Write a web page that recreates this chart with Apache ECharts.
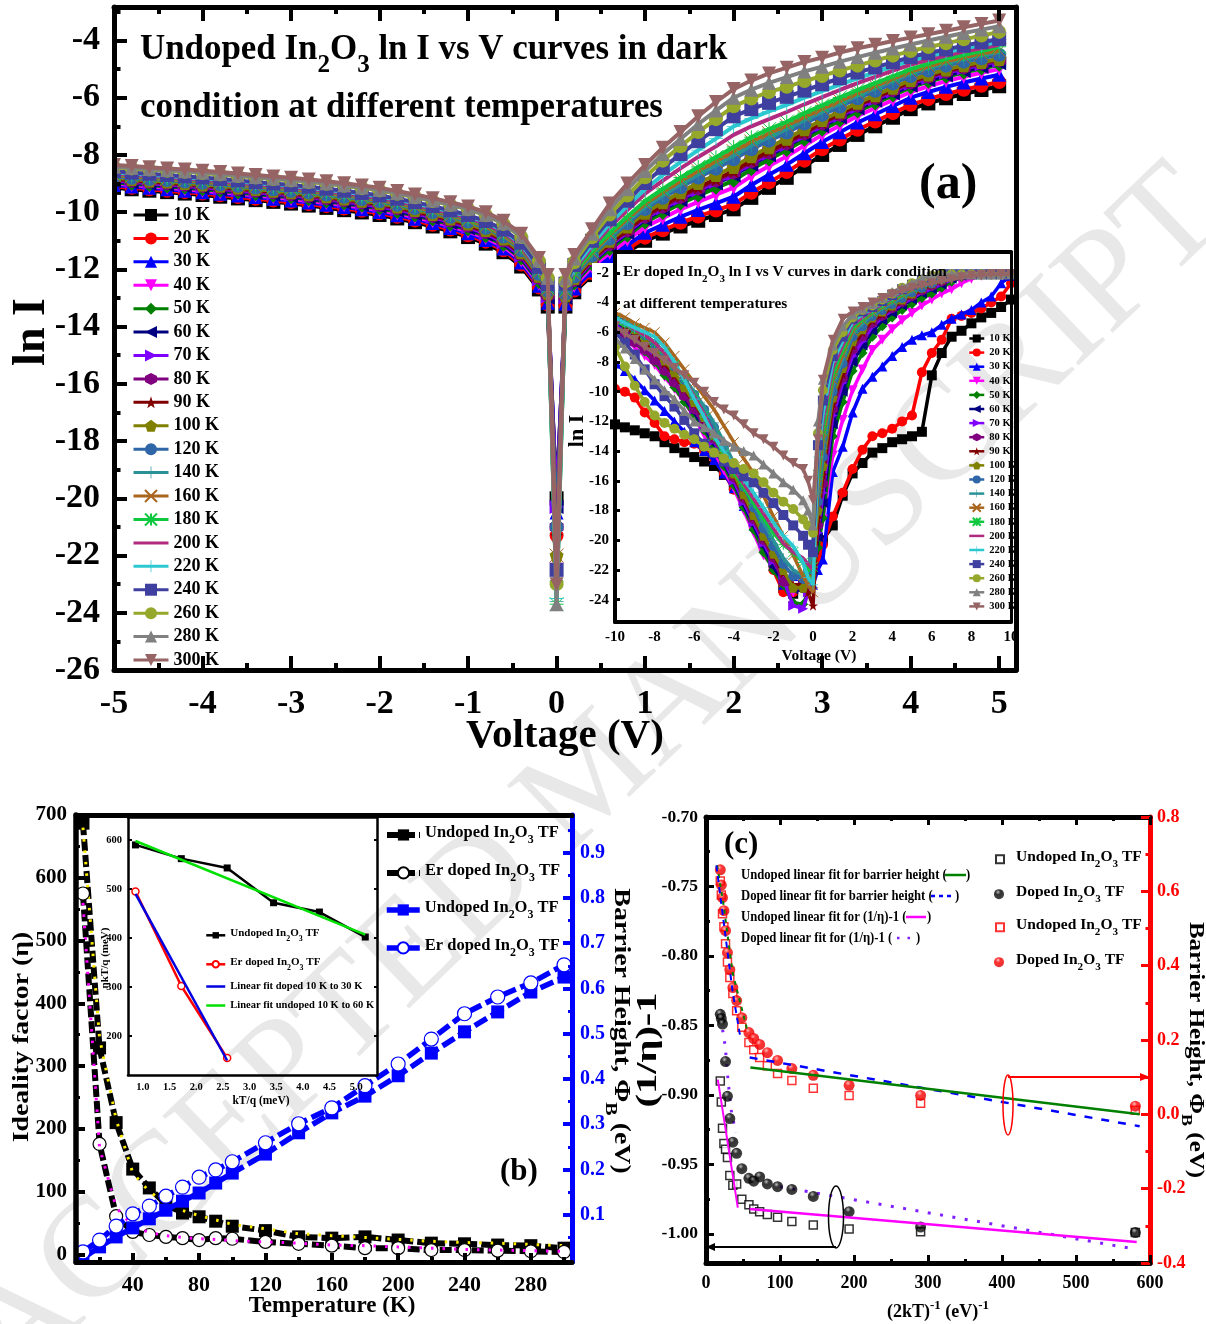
<!DOCTYPE html>
<html><head><meta charset="utf-8">
<script src="https://cdn.jsdelivr.net/npm/echarts@6/dist/echarts.min.js"></script>
<style>html,body{margin:0;padding:0;background:#fff}#c{width:1206px;height:1324px}</style></head>
<body><div id="c"></div><script>
const F='"Liberation Serif","Times New Roman",serif';
const NONE='path://M0 0h.01v.01h-.01ZM10 10h.01v.01h-.01Z';
const tempNames=['10 K','20 K','30 K','40 K','50 K','60 K','70 K','80 K','90 K','100 K','120 K','140 K','160 K','180 K','200 K','220 K','240 K','260 K','280 K','300 K'];
const tempColors=['#000000','#ff0000','#0000ff','#ff00ff','#008000','#000080','#8000ff','#800080','#800000','#808000','#2f66a8','#2a9296','#a8661f','#10c840','#b02a80','#2cc8d0','#3f3f9f','#96a82c','#808080','#966464'];
const tempSymbols=['rect','circle','triangle','path://M0 0H10L5 10Z','diamond','path://M10 0V10L0 5Z','path://M0 0V10L10 5Z','path://M5 0L10 2.5V7.5L5 10L0 7.5V2.5Z','path://M5 0L6.2 3.6H10L7 5.9L8.1 9.5L5 7.3L1.9 9.5L3 5.9L0 3.6H3.8Z','path://M5 0L10 3.8L8.1 10H1.9L0 3.8Z','circle','path://M4.7 0H5.3V4.7H10V5.3H5.3V10H4.7V5.3H0V4.7H4.7Z','path://M0 0L10 10M10 0L0 10','path://M0 0L10 10M10 0L0 10M5 0V10M0 5H10',NONE,'path://M4.7 0H5.3V4.7H10V5.3H5.3V10H4.7V5.3H0V4.7H4.7Z','rect','circle','triangle','path://M0 0H10L5 10Z'];
const voltsA=[-5,-4.8,-4.6,-4.4,-4.2,-4,-3.8,-3.6,-3.4,-3.2,-3,-2.8,-2.6,-2.4,-2.2,-2,-1.8,-1.6,-1.4,-1.2,-1,-0.8,-0.6,-0.4,-0.2,-0.1,0,0.1,0.2,0.4,0.6,0.8,1,1.2,1.4,1.6,1.8,2,2.2,2.4,2.6,2.8,3,3.2,3.4,3.6,3.8,4,4.2,4.4,4.6,4.8,5];
const a10=[-9.15,-9.20,-9.25,-9.30,-9.35,-9.40,-9.46,-9.52,-9.58,-9.64,-9.70,-9.77,-9.85,-9.93,-10.01,-10.10,-10.22,-10.35,-10.50,-10.67,-10.87,-11.10,-11.40,-11.90,-12.70,-13.30,-20,-13.3,-12.8,-12.2,-11.8,-11.4,-11.0,-10.75,-10.5,-10.3,-10.1,-9.9,-9.5,-9.15,-8.8,-8.4,-8.0,-7.65,-7.3,-7.0,-6.7,-6.4,-6.2,-6.02,-5.87,-5.73,-5.6];
const a20=[-9.10,-9.15,-9.20,-9.25,-9.30,-9.35,-9.41,-9.47,-9.53,-9.59,-9.65,-9.72,-9.79,-9.87,-9.95,-10.04,-10.16,-10.29,-10.44,-10.61,-10.81,-11.03,-11.33,-11.83,-12.63,-13.23,-21.3,-13.25,-12.74,-12.13,-11.71,-11.3,-10.89,-10.63,-10.37,-10.15,-9.94,-9.73,-9.32,-8.96,-8.6,-8.2,-7.8,-7.46,-7.12,-6.83,-6.54,-6.25,-6.05,-5.87,-5.72,-5.58,-5.45];
const a30=[-9.05,-9.10,-9.15,-9.20,-9.25,-9.30,-9.36,-9.42,-9.47,-9.53,-9.59,-9.66,-9.74,-9.82,-9.90,-9.99,-10.11,-10.23,-10.38,-10.55,-10.74,-10.97,-11.27,-11.76,-12.57,-13.17,-20.5,-13.2,-12.67,-12.04,-11.59,-11.15,-10.72,-10.44,-10.16,-9.92,-9.69,-9.46,-9.05,-8.69,-8.34,-7.94,-7.55,-7.21,-6.87,-6.58,-6.29,-6.0,-5.8,-5.62,-5.47,-5.33,-5.2];
const a40=[-9.00,-9.05,-9.10,-9.15,-9.20,-9.25,-9.30,-9.36,-9.42,-9.48,-9.54,-9.61,-9.68,-9.76,-9.84,-9.93,-10.05,-10.18,-10.32,-10.49,-10.68,-10.90,-11.20,-11.69,-12.50,-13.10,-22.5,-13.1,-12.57,-11.91,-11.42,-10.97,-10.52,-10.21,-9.9,-9.64,-9.39,-9.14,-8.74,-8.39,-8.05,-7.67,-7.3,-6.97,-6.64,-6.36,-6.08,-5.8,-5.6,-5.42,-5.27,-5.13,-5.0];
const a50=[-8.96,-9.01,-9.05,-9.10,-9.15,-9.20,-9.25,-9.31,-9.37,-9.43,-9.48,-9.55,-9.63,-9.70,-9.78,-9.87,-9.99,-10.12,-10.26,-10.43,-10.61,-10.84,-11.14,-11.62,-12.44,-13.04,-22.9,-13.04,-12.49,-11.82,-11.3,-10.82,-10.36,-10.03,-9.7,-9.42,-9.15,-8.9,-8.5,-8.16,-7.83,-7.47,-7.12,-6.8,-6.48,-6.2,-5.92,-5.64,-5.44,-5.27,-5.12,-4.98,-4.85];
const a60=[-8.93,-8.97,-9.02,-9.07,-9.11,-9.16,-9.22,-9.28,-9.33,-9.39,-9.45,-9.52,-9.59,-9.67,-9.75,-9.83,-9.95,-10.08,-10.22,-10.38,-10.57,-10.79,-11.09,-11.58,-12.39,-12.99,-20.3,-13.0,-12.44,-11.75,-11.21,-10.73,-10.26,-9.91,-9.58,-9.28,-9.0,-8.72,-8.34,-8.01,-7.7,-7.35,-7.0,-6.69,-6.38,-6.11,-5.85,-5.58,-5.39,-5.22,-5.07,-4.93,-4.8];
const a70=[-8.89,-8.94,-8.99,-9.03,-9.08,-9.13,-9.18,-9.24,-9.30,-9.36,-9.41,-9.48,-9.55,-9.63,-9.71,-9.80,-9.91,-10.04,-10.18,-10.34,-10.53,-10.75,-11.05,-11.53,-12.35,-12.95,-20.3,-12.97,-12.41,-11.72,-11.17,-10.69,-10.21,-9.86,-9.53,-9.23,-8.95,-8.67,-8.29,-7.96,-7.65,-7.3,-6.95,-6.64,-6.33,-6.05,-5.78,-5.51,-5.31,-5.13,-4.98,-4.84,-4.72];
const a80=[-8.86,-8.91,-8.95,-9.0,-9.05,-9.09,-9.15,-9.21,-9.26,-9.32,-9.38,-9.44,-9.52,-9.59,-9.67,-9.76,-9.87,-10.0,-10.14,-10.3,-10.48,-10.7,-11.0,-11.49,-12.3,-12.9,-21,-12.95,-12.38,-11.69,-11.13,-10.65,-10.17,-9.82,-9.48,-9.18,-8.9,-8.62,-8.24,-7.92,-7.61,-7.26,-6.91,-6.6,-6.29,-6.02,-5.75,-5.48,-5.28,-5.1,-4.95,-4.81,-4.7];
const a90=[-8.83,-8.88,-8.92,-8.97,-9.01,-9.06,-9.12,-9.17,-9.23,-9.28,-9.34,-9.41,-9.48,-9.55,-9.63,-9.72,-9.83,-9.96,-10.1,-10.26,-10.44,-10.66,-10.96,-11.44,-12.26,-12.86,-21.3,-12.93,-12.35,-11.65,-11.09,-10.6,-10.12,-9.77,-9.43,-9.13,-8.85,-8.57,-8.19,-7.87,-7.56,-7.21,-6.87,-6.56,-6.25,-5.98,-5.71,-5.44,-5.24,-5.06,-4.91,-4.77,-4.66];
const a100=[-8.8,-8.84,-8.89,-8.93,-8.98,-9.03,-9.08,-9.14,-9.19,-9.25,-9.3,-9.37,-9.44,-9.52,-9.6,-9.68,-9.8,-9.92,-10.06,-10.22,-10.4,-10.62,-10.92,-11.4,-12.22,-12.82,-22,-12.9,-12.3,-11.6,-11.0,-10.5,-10.02,-9.65,-9.3,-8.98,-8.7,-8.42,-8.05,-7.73,-7.43,-7.1,-6.78,-6.48,-6.18,-5.91,-5.65,-5.38,-5.19,-5.01,-4.87,-4.75,-4.65];
const a120=[-8.75,-8.8,-8.84,-8.88,-8.93,-8.97,-9.03,-9.08,-9.14,-9.2,-9.25,-9.31,-9.38,-9.46,-9.54,-9.62,-9.74,-9.86,-10.0,-10.16,-10.33,-10.55,-10.85,-11.33,-12.15,-12.75,-21,-12.84,-12.25,-11.52,-10.92,-10.39,-9.89,-9.5,-9.13,-8.79,-8.48,-8.15,-7.8,-7.5,-7.22,-6.9,-6.6,-6.31,-6.02,-5.76,-5.5,-5.24,-5.05,-4.88,-4.74,-4.62,-4.5];
const a140=[-8.73,-8.78,-8.82,-8.87,-8.91,-8.96,-9.01,-9.07,-9.12,-9.18,-9.23,-9.3,-9.37,-9.44,-9.52,-9.6,-9.72,-9.85,-9.99,-10.14,-10.31,-10.53,-10.83,-11.3,-12.13,-12.73,-23.6,-12.8,-12.2,-11.47,-10.86,-10.32,-9.81,-9.41,-9.03,-8.68,-8.36,-8.02,-7.67,-7.38,-7.1,-6.79,-6.5,-6.21,-5.93,-5.67,-5.41,-5.15,-4.96,-4.79,-4.65,-4.52,-4.4];
const a160=[-8.71,-8.75,-8.8,-8.84,-8.89,-8.93,-8.99,-9.04,-9.1,-9.15,-9.2,-9.27,-9.34,-9.41,-9.49,-9.58,-9.69,-9.82,-9.96,-10.11,-10.28,-10.5,-10.8,-11.27,-12.1,-12.7,-22,-12.77,-12.16,-11.42,-10.79,-10.23,-9.71,-9.3,-8.91,-8.55,-8.22,-7.87,-7.53,-7.24,-6.97,-6.67,-6.39,-6.11,-5.84,-5.59,-5.34,-5.09,-4.9,-4.73,-4.59,-4.46,-4.35];
const a180=[-8.67,-8.71,-8.76,-8.8,-8.85,-8.89,-8.94,-9.0,-9.05,-9.11,-9.16,-9.22,-9.29,-9.37,-9.45,-9.53,-9.64,-9.77,-9.91,-10.06,-10.23,-10.44,-10.74,-11.21,-12.04,-12.64,-23.7,-12.73,-12.12,-11.36,-10.72,-10.15,-9.61,-9.19,-8.79,-8.42,-8.08,-7.72,-7.38,-7.1,-6.84,-6.54,-6.27,-5.99,-5.73,-5.49,-5.25,-5.0,-4.81,-4.64,-4.5,-4.37,-4.22];
const a200=[-8.65,-8.7,-8.74,-8.78,-8.83,-8.87,-8.93,-8.98,-9.03,-9.09,-9.14,-9.2,-9.27,-9.35,-9.43,-9.51,-9.62,-9.75,-9.89,-10.04,-10.2,-10.42,-10.72,-11.19,-12.02,-12.62,-22,-12.65,-12.02,-11.22,-10.52,-9.93,-9.35,-8.9,-8.47,-8.07,-7.7,-7.3,-7.0,-6.75,-6.5,-6.23,-5.98,-5.73,-5.49,-5.27,-5.05,-4.84,-4.68,-4.53,-4.39,-4.27,-4.15];
const a220=[-8.61,-8.65,-8.69,-8.74,-8.78,-8.82,-8.87,-8.93,-8.98,-9.03,-9.08,-9.15,-9.22,-9.29,-9.37,-9.45,-9.56,-9.69,-9.83,-9.98,-10.14,-10.35,-10.65,-11.12,-11.95,-12.55,-23.5,-12.58,-11.95,-11.13,-10.4,-9.78,-9.2,-8.7,-8.25,-7.83,-7.43,-7.0,-6.72,-6.48,-6.25,-6.0,-5.77,-5.54,-5.32,-5.11,-4.9,-4.7,-4.55,-4.41,-4.28,-4.16,-4.05];
const a240=[-8.57,-8.62,-8.66,-8.7,-8.75,-8.79,-8.84,-8.89,-8.95,-9.0,-9.05,-9.11,-9.18,-9.25,-9.33,-9.42,-9.53,-9.65,-9.79,-9.94,-10.1,-10.31,-10.61,-11.07,-11.91,-12.51,-22.5,-12.5,-11.85,-11.0,-10.25,-9.6,-8.98,-8.45,-7.97,-7.52,-7.1,-6.65,-6.4,-6.18,-5.97,-5.75,-5.53,-5.32,-5.12,-4.94,-4.76,-4.58,-4.44,-4.31,-4.18,-4.06,-3.95];
const a260=[-8.43,-8.47,-8.51,-8.55,-8.59,-8.63,-8.68,-8.74,-8.79,-8.84,-8.89,-8.95,-9.01,-9.08,-9.16,-9.24,-9.36,-9.48,-9.61,-9.75,-9.9,-10.11,-10.41,-10.87,-11.71,-12.31,-23,-12.42,-11.75,-10.88,-10.08,-9.42,-8.78,-8.2,-7.7,-7.2,-6.75,-6.3,-6.03,-5.8,-5.62,-5.42,-5.24,-5.05,-4.88,-4.7,-4.53,-4.37,-4.23,-4.1,-3.96,-3.83,-3.7];
const a280=[-8.41,-8.45,-8.49,-8.53,-8.57,-8.61,-8.66,-8.72,-8.77,-8.82,-8.87,-8.93,-8.99,-9.06,-9.14,-9.22,-9.33,-9.46,-9.59,-9.73,-9.88,-10.09,-10.39,-10.85,-11.69,-12.29,-23.7,-12.32,-11.62,-10.75,-9.9,-9.2,-8.56,-7.97,-7.44,-6.92,-6.45,-6.0,-5.72,-5.48,-5.28,-5.08,-4.92,-4.74,-4.58,-4.43,-4.28,-4.14,-4.0,-3.87,-3.74,-3.62,-3.5];
const a300=[-8.35,-8.39,-8.43,-8.47,-8.51,-8.55,-8.6,-8.65,-8.7,-8.75,-8.8,-8.86,-8.92,-8.99,-9.07,-9.15,-9.26,-9.38,-9.51,-9.65,-9.8,-10.0,-10.3,-10.75,-11.6,-12.2,-23,-12.2,-11.5,-10.6,-9.7,-9.0,-8.35,-7.75,-7.2,-6.65,-6.15,-5.7,-5.4,-5.15,-4.95,-4.75,-4.6,-4.42,-4.27,-4.15,-4.02,-3.9,-3.78,-3.66,-3.54,-3.42,-3.3];
const voltsB=[-10,-9.5,-9,-8.5,-8,-7.5,-7,-6.5,-6,-5.5,-5,-4.5,-4,-3.5,-3,-2.5,-2,-1.5,-1,-0.5,-0.25,0,0.25,0.5,1,1.5,2,2.5,3,3.5,4,4.5,5,5.5,6,6.5,7,7.5,8,8.5,9,9.5,10];
const b10=[-12.2,-12.4,-12.6,-12.8,-13,-13.4,-13.8,-14.1,-14.4,-14.7,-15,-15.6,-16.3,-17.3,-18.5,-20,-21.5,-23.2,-23.6,-23,-22.5,-21.5,-21,-20,-19,-17,-15.5,-14.8,-14.1,-13.8,-13.4,-13.2,-13,-12.7,-8.9,-7.4,-6.3,-5.9,-5.4,-5,-4.7,-4.3,-3.8];
const b20=[-9.8,-10,-10.4,-11.4,-12.1,-13,-13.2,-13.4,-13.5,-14,-14.5,-15.5,-16.6,-17.6,-19,-20.5,-22,-23.5,-23.5,-23,-22.5,-22,-21.5,-20.3,-18.4,-16.8,-15.2,-13.9,-13,-12.8,-12.5,-12,-11.6,-8.7,-7.4,-6.5,-5.1,-4.9,-4.7,-4.4,-4,-3.6,-2.7];
const b30=[-8.1,-8.6,-9.2,-9.9,-10.6,-11.3,-12,-12.7,-13.4,-14,-14.6,-15.5,-16.5,-17.7,-19,-20,-21.7,-23,-22.4,-22.5,-22.8,-23,-22,-21.3,-15.4,-13.7,-11.4,-9.8,-9,-8.3,-7.6,-7,-6.5,-6.2,-6,-5.5,-5.1,-4.8,-4.5,-4,-3.6,-2.7,-2.2];
const b40=[-6,-6.5,-7,-7.6,-8.2,-9,-9.8,-10.7,-11.7,-12.9,-14,-15.3,-16.5,-18,-19.5,-21,-21.8,-23,-23.5,-23,-22.5,-21,-20,-18.6,-14.3,-11.9,-9.9,-8.5,-7.2,-6.5,-5.8,-5.2,-4.7,-4.2,-3.8,-3.4,-3.1,-2.7,-2.4,-2.2,-2.1,-2.1,-2.1];
const b50=[-5.6,-6.1,-6.7,-7.3,-8,-8.9,-9.7,-10.7,-11.6,-12.6,-13.7,-15,-16.3,-17.8,-19.3,-20.8,-22,-23,-24.2,-24.3,-23.5,-22,-20.5,-18.5,-13,-10.7,-8.6,-7.4,-6.3,-5.6,-5,-4.5,-4.1,-3.7,-3.4,-3,-2.6,-2.3,-2.1,-2.1,-2.1,-2.1,-2.1];
const b60=[-5.4,-5.9,-6.4,-7,-7.7,-8.5,-9.4,-10.4,-11.4,-12.4,-13.5,-14.8,-16.1,-17.6,-19,-20.4,-21.8,-22.8,-23.3,-23.4,-23,-22,-19.8,-17.5,-12.2,-10,-8,-6.9,-5.9,-5.2,-4.7,-4.2,-3.8,-3.4,-3.1,-2.8,-2.4,-2.2,-2.1,-2.1,-2.1,-2.1,-2.1];
const b70=[-5.5,-6,-6.5,-7.1,-7.7,-8.4,-9.2,-10.2,-11.2,-12.2,-13.3,-14.6,-16,-17.4,-18.8,-20.2,-21.4,-22.6,-24.4,-24.6,-23.5,-21.5,-19.5,-16.8,-11.6,-9.4,-7.6,-6.6,-5.6,-5,-4.5,-4.1,-3.7,-3.3,-3,-2.7,-2.4,-2.2,-2.1,-2.1,-2.1,-2.1,-2.1];
const b80=[-5.9,-6.2,-6.7,-7.2,-7.9,-8.6,-9.4,-10.3,-11.2,-12.2,-13.2,-14.4,-15.8,-17.2,-18.6,-20,-21.2,-22.8,-23.2,-23,-22.6,-21.8,-19,-16.2,-11.2,-9.1,-7.2,-6.3,-5.4,-4.9,-4.4,-4,-3.6,-3.2,-2.9,-2.6,-2.3,-2.2,-2.1,-2.1,-2.1,-2.1,-2.1];
const b90=[-5.1,-5.6,-6.1,-6.7,-7.3,-8.1,-8.9,-9.8,-10.8,-11.8,-13,-14.2,-15.6,-17,-18.4,-19.8,-21,-22.2,-23,-23,-23.5,-24.4,-18.5,-15.6,-10.8,-8.8,-6.9,-6,-5.2,-4.8,-4.3,-3.9,-3.5,-3.1,-2.8,-2.5,-2.2,-2.1,-2.1,-2.1,-2.1,-2.1,-2.1];
const b100=[-4.9,-5.3,-5.8,-6.4,-7.1,-7.9,-8.7,-9.7,-10.7,-11.7,-12.9,-14.1,-15.5,-16.9,-18.3,-19.7,-20.9,-22,-23.2,-23.2,-22.5,-21,-18,-15,-10.4,-8.4,-6.6,-5.8,-5,-4.6,-4.2,-3.8,-3.4,-3,-2.7,-2.4,-2.2,-2.1,-2.1,-2.1,-2.1,-2.1,-2.1];
const b120=[-5,-5.3,-5.7,-6.2,-6.8,-7.5,-8.3,-9.2,-10.2,-11.2,-12.4,-13.7,-15.1,-16.4,-17.8,-19.2,-20.4,-21.6,-22.4,-22.6,-22,-20.5,-17.4,-14.4,-10,-8.1,-6.3,-5.6,-4.9,-4.5,-4.1,-3.7,-3.3,-3,-2.7,-2.4,-2.2,-2.1,-2.1,-2.1,-2.1,-2.1,-2.1];
const b140=[-5.1,-5.3,-5.6,-6.1,-6.7,-7.4,-8.2,-9.1,-10,-11,-12.1,-13.4,-14.8,-16.1,-17.5,-18.8,-20,-21.2,-22,-22.4,-22,-20,-16.8,-13.8,-9.6,-7.8,-6.1,-5.4,-4.8,-4.4,-4,-3.6,-3.2,-2.9,-2.6,-2.3,-2.1,-2.1,-2.1,-2.1,-2.1,-2.1,-2.1];
const b160=[-4.7,-5,-5.4,-5.7,-6,-6.7,-7.6,-8.5,-9.4,-10.3,-11.2,-12.3,-13.4,-14.5,-15.5,-17,-18.4,-19.7,-21,-22.4,-23,-23.5,-16.2,-13.2,-9.2,-7.5,-5.9,-5.2,-4.7,-4.3,-3.9,-3.5,-3.1,-2.8,-2.5,-2.3,-2.1,-2.1,-2.1,-2.1,-2.1,-2.1,-2.1];
const b180=[-5.2,-5.5,-5.8,-6.2,-6.7,-7.4,-8.2,-9.2,-10.3,-11.6,-13,-14.2,-15.4,-16.4,-17.5,-18.5,-19.5,-20.3,-20.8,-21.5,-22,-21.8,-15.6,-12.6,-8.8,-7.2,-5.7,-5.1,-4.6,-4.2,-3.8,-3.4,-3,-2.7,-2.5,-2.2,-2.1,-2.1,-2.1,-2.1,-2.1,-2.1,-2.1];
const b200=[-5.1,-5.4,-5.8,-6.2,-6.7,-7.4,-8.2,-9.2,-10.3,-11.5,-12.9,-14,-15.2,-16.2,-17.2,-18.2,-19.2,-20.2,-20.8,-21.2,-21.6,-22,-15,-12,-8.4,-6.9,-5.5,-5,-4.5,-4.1,-3.7,-3.3,-3,-2.7,-2.4,-2.2,-2.1,-2.1,-2.1,-2.1,-2.1,-2.1,-2.1];
const b220=[-5,-5.4,-5.7,-6,-6.3,-7,-8,-9.2,-10.5,-11.7,-13,-14,-15,-15.9,-16.8,-17.8,-18.8,-19.7,-20.4,-21.5,-22.5,-23,-14.4,-11.5,-8,-6.6,-5.3,-4.8,-4.4,-4,-3.6,-3.2,-2.9,-2.6,-2.4,-2.2,-2.1,-2.1,-2.1,-2.1,-2.1,-2.1,-2.1];
const b240=[-6,-6.7,-7.5,-8.5,-9.5,-10.3,-11,-11.9,-12.8,-13.5,-14.1,-14.7,-15.2,-15.7,-16.1,-16.8,-17.5,-18.3,-19,-19.7,-20.3,-20.8,-13.6,-10.6,-7.6,-6.3,-5.1,-4.6,-4.3,-3.9,-3.5,-3.1,-2.8,-2.5,-2.3,-2.1,-2.1,-2.1,-2.1,-2.1,-2.1,-2.1,-2.1];
const b260=[-7,-8.3,-9.6,-10.7,-11.6,-12.1,-12.5,-12.9,-13.2,-13.7,-14.1,-14.5,-14.8,-15.2,-15.5,-16.1,-16.8,-17.4,-17.9,-18.6,-19,-19.5,-12.8,-9.9,-7.2,-6,-5,-4.5,-4.2,-3.8,-3.4,-3,-2.7,-2.5,-2.2,-2.1,-2.1,-2.1,-2.1,-2.1,-2.1,-2.1,-2.1];
const b280=[-6.4,-7.1,-7.8,-8.5,-9.2,-9.9,-10.5,-11.3,-12,-12.4,-12.8,-13.3,-13.7,-14,-14.3,-14.9,-15.5,-16.1,-16.6,-17.3,-18,-19,-12,-9.2,-6.9,-5.6,-4.8,-4.4,-4.1,-3.7,-3.3,-3,-2.7,-2.4,-2.2,-2.1,-2.1,-2.1,-2.1,-2.1,-2.1,-2.1,-2.1];
const b300=[-5.6,-6.1,-6.5,-7,-7.4,-7.9,-8.4,-8.9,-9.4,-10,-10.7,-11.2,-11.6,-12.2,-12.8,-13.2,-13.7,-14.3,-14.8,-15.2,-16,-17.3,-13.2,-9.2,-6.5,-5.1,-4.6,-4.3,-4,-3.7,-3.45,-3.2,-3,-2.85,-2.7,-2.55,-2.45,-2.3,-2.2,-2.15,-2.1,-2.1,-2.1];
const seriesA=[a10,a20,a30,a40,a50,a60,a70,a80,a90,a100,a120,a140,a160,a180,a200,a220,a240,a260,a280,a300];
const seriesB=[b10,b20,b30,b40,b50,b60,b70,b80,b90,b100,b120,b140,b160,b180,b200,b220,b240,b260,b280,b300];
// panel b
const tempsK=[10,20,30,40,50,60,70,80,90,100,120,140,160,180,200,220,240,260,280,300];
const etaUndoped=[687,329,210,136,106,80,66,60,53,45,38,28,26,28,23,18,17,15,14,10];
const etaDoped=[575,176,61,36,31,28,26,23,26,25,20,17,14,10,10,7,7,6,5,4];
const etaUndopedFit=[680,345,215,130,100,82,70,62,55,48,41,33,30,27,24,21,19,18,16,14];
const etaDopedFit=[560,170,75,45,35,30,27,25,24,22,20,18,15,14,12,10,8,7,6,5];
const phiUndoped=[.004,.029,.051,.071,.091,.110,.130,.148,.170,.192,.234,.281,.325,.362,.407,.457,.504,.548,.592,.625];
const phiDoped=[.018,.044,.075,.102,.119,.141,.161,.183,.199,.217,.259,.301,.336,.385,.433,.488,.544,.581,.612,.652];
const insetKT=[.86,1.72,2.58,3.45,4.31,5.17];
const insetUndoped=[590,562,543,472,453,402];
const insetDoped=[495,302,155];
const insetFitDoped=[[.86,490],[2.58,150]];
const insetFitUndoped=[[.86,598],[5.17,407]];
// panel c
const invKT=[19.3,20.7,22.3,24.2,26.4,29,32.2,36.3,41.4,48.4,58,64.5,72.5,82.9,96.7,116,145,193.4,290,580.2];
const cUndopedLeft=[-.890,-.905,-.924,-.935,-.939,-.945,-.958,-.965,-.964,-.975,-.979,-.982,-.984,-.986,-.988,-.991,-.9935,-.9965,-.9985,-.999];
const cDopedX=[19.3,20.7,22.3,26.4,29,32.2,36.3,41.4,48.4,58,64.5,72.5,82.9,96.7,116,145,193.4,290,580.2];
const cDopedLeft=[-.842,-.845,-.849,-.876,-.901,-.917,-.934,-.942,-.953,-.960,-.962,-.959,-.964,-.966,-.968,-.973,-.984,-.995,-.999];
const cUndopedRight=[.628,.59,.54,.505,.459,.41,.368,.325,.279,.234,.193,.174,.153,.131,.11,.091,.07,.051,.03,.011];
const cDopedRight=[.658,.617,.583,.548,.494,.435,.389,.341,.306,.26,.22,.204,.188,.166,.145,.123,.105,.078,.051,.022];
const fitBarrierUndopedSteep=[[15,.67],[24,.56],[36,.38],[56,.225]];
const fitBarrierDopedSteep=[[14,.67],[25,.5],[36,.33],[46,.212]];
const fitBarrierUndoped=[[60,.126],[586,0]];
const fitBarrierDoped=[[59,.153],[586,-.032]];
const fitEtaUndopedSteep=[[16,-.889],[43,-.981]];
const fitEtaUndoped=[[59,-.982],[582,-1.0058]];
const fitEtaDopedSteep=[[20,-.845],[26,-.865],[30,-.891],[35,-.915],[41,-.927]];
const fitEtaDoped=[[100,-.966],[570,-1.01]];
const xMajorB=[40,80,120,160,200,240,280], xMinorB=[20,60,100,140,180,220,260,300];
const yMajorB=[0,100,200,300,400,500,600,700], yMinorB=[50,150,250,350,450,550,650];
const rMajorB=[.1,.2,.3,.4,.5,.6,.7,.8,.9], rMinorB=[.05,.15,.25,.35,.45,.55,.65,.75,.85,.95];
const yMajorC=[-1,-.95,-.9,-.85,-.8,-.75,-.7], yMinorC=[-.975,-.925,-.875,-.825,-.775,-.725];
const yInsetA=[-24,-22,-20,-18,-16,-14,-12,-10,-8,-6,-4,-2];
const xInsetB=[1,1.5,2,2.5,3,3.5,4,4.5,5], yInsetB=[200,300,400,500,600];

const rich=(s,c)=>({t:{fontFamily:F,fontWeight:'bold',fontSize:s,color:c||'#000',lineHeight:s*1.05,verticalAlign:'top'},
 s:{fontFamily:F,fontWeight:'bold',fontSize:s*.72,color:c||'#000',padding:[s*.6,0,0,0],verticalAlign:'bottom'},
 u:{fontFamily:F,fontWeight:'bold',fontSize:s*.72,color:c||'#000',padding:[0,0,s*.5,0],verticalAlign:'top'},
 b:{fontFamily:F,fontWeight:'bold',fontSize:s,color:c||'#000',verticalAlign:'bottom',lineHeight:s*1.05},
 p:{width:7,fontSize:s}});
const IO='{t|In}{s|2}{t|O}{s|3}';
const legendText={'Undoped η':'{t|Undoped }'+IO+'{t| TF}','Er doped η':'{t|Er doped }'+IO+'{t| TF}','Undoped Φ':'{t|Undoped }'+IO+'{t| TF}','Er doped Φ':'{t|Er doped }'+IO+'{t| TF}',
 'Undoped kT':'{t|Undoped }'+IO+'{t| TF}','Er doped kT':'{t|Er doped }'+IO+'{t| TF}','Linear fit doped 10 K to 30 K':'{t|Linear fit doped 10 K to 30 K}','Linear fit undoped 10 K to 60 K':'{t|Linear fit undoped 10 K to 60 K}',
 'Undoped left':'{p| }{t|Undoped }'+IO+'{t| TF}','Doped left':'{p| }{t|Doped }'+IO+'{t| TF}','Undoped right':'{p| }{t|Undoped }'+IO+'{t| TF}','Doped right':'{p| }{t|Doped }'+IO+'{t| TF}'};
const oneLegend=(name,left,top,size,iw,ih)=>({data:[name],left,top,padding:0,itemWidth:iw,itemHeight:ih,itemGap:0,selectedMode:false,z:8,lineStyle:{width:'inherit'},
 textStyle:{fontFamily:F,fontWeight:'bold',fontSize:size,color:'#000',rich:rich(size)},formatter:n=>legendText[n]});
const axis=(o)=>{const c=o.color||'#000',lw=o.lw===undefined?4:o.lw;return {type:'value',gridIndex:o.g,min:o.min,max:o.max,position:o.pos,interval:o.interval,z:o.z||6,
 splitLine:{show:false},axisLine:{show:lw>0,onZero:false,lineStyle:{color:c,width:lw}},
 axisTick:{show:o.tl>0,inside:true,length:o.tl||0,customValues:o.ticks,lineStyle:{color:c,width:o.tw||3}},
 minorTick:o.minor?{show:true,splitNumber:o.minor,length:o.tl/2,lineStyle:{color:c,width:o.tw||3}}:{show:false},
 axisLabel:o.fs?{show:true,color:c,fontFamily:F,fontWeight:'bold',fontSize:o.fs,margin:o.m,customValues:o.ticks,formatter:o.fmt||(v=>String(v)),showMinLabel:true,showMaxLabel:true}:{show:false}};};
const intOnly=v=>Number.isInteger(v)?String(v):'';
const fix1=v=>v.toFixed(1), fix2=v=>v.toFixed(2);
const xAxes=[
 axis({g:0,min:-5,max:5.19,pos:'bottom',interval:1,minor:2,lw:5,tl:14,tw:4,fs:34,m:17,fmt:intOnly}),
 axis({g:0,min:-5,max:5.19,pos:'top',interval:1,minor:2,lw:5,tl:14,tw:4}),
 axis({g:1,min:-10,max:10,pos:'bottom',interval:2,lw:4,tl:0,fs:15,m:8,z:7}),
 axis({g:2,min:5.8,max:304.8,pos:'bottom',ticks:xMajorB,lw:5,tl:9,tw:4,fs:22,m:12}),
 axis({g:2,min:5.8,max:304.8,pos:'bottom',ticks:xMinorB,lw:0,tl:5,tw:4}),
 axis({g:2,min:5.8,max:304.8,pos:'top',ticks:xMajorB,lw:5,tl:2,tw:2}),
 axis({g:3,min:.72,max:5.39,pos:'bottom',ticks:xInsetB,lw:2.5,tl:0,fs:10.5,m:7,fmt:fix1,z:7}),
 axis({g:4,min:0,max:600,pos:'bottom',interval:100,minor:2,lw:5,tl:8,tw:3,fs:18,m:11,fmt:String}),
 axis({g:4,min:0,max:600,pos:'top',interval:100,minor:2,lw:5,tl:8,tw:3}),
 axis({g:1,min:-10,max:10,pos:'top',lw:4,tl:0,z:7}),
 axis({g:3,min:.72,max:5.39,pos:'top',lw:2.5,tl:0,z:7})
];
const yAxes=[
 axis({g:0,min:-26,max:-2.83,pos:'left',interval:2,minor:2,lw:5,tl:13,tw:4,fs:34,m:14,fmt:intOnly}),
 axis({g:0,min:-26,max:-2.83,pos:'right',lw:5,tl:0}),
 axis({g:1,min:-25.5,max:-.6,pos:'left',ticks:yInsetA,lw:4,tl:5,tw:3,fs:15,m:6,z:7}),
 axis({g:1,min:-25.5,max:-.6,pos:'right',lw:3,tl:0,z:7}),
 axis({g:2,min:-12,max:700,pos:'left',ticks:yMajorB,lw:5.5,tl:9,tw:4,fs:21,m:9}),
 axis({g:2,min:-12,max:700,pos:'left',ticks:yMinorB,lw:0,tl:4,tw:3}),
 axis({g:2,min:-.0044,max:.983,pos:'right',ticks:rMajorB,lw:5,tl:9,tw:4,fs:20,m:8,fmt:fix1,color:'#0000ff'}),
 axis({g:2,min:-.0044,max:.983,pos:'right',ticks:rMinorB,lw:0,tl:4,tw:3,color:'#0000ff'}),
 axis({g:3,min:120.4,max:647,pos:'left',ticks:yInsetB,lw:2.5,tl:4,tw:2,fs:10.5,m:6,z:7}),
 axis({g:3,min:120.4,max:647,pos:'right',ticks:yInsetB,lw:2.5,tl:3,tw:2,z:7}),
 axis({g:4,min:-1.0209,max:-.7,pos:'left',ticks:yMajorC,lw:5,tl:8,tw:3,fs:17.5,m:8,fmt:fix2}),
 axis({g:4,min:-1.0209,max:-.7,pos:'left',ticks:yMinorC,lw:0,tl:4,tw:3}),
 axis({g:4,min:-.4,max:.8,pos:'right',interval:.2,minor:2,lw:5,tl:9,tw:3,fs:18,m:7,fmt:fix1,color:'#ff0000'})
];
const series=[];
const pair=(xs,ys)=>ys.map((y,i)=>[xs[i],y]);
tempNames.forEach((n,i)=>{
 const c=tempColors[i];
 const style={color:c,borderColor:c,borderWidth:i===12||i===13?1:0};
 series.push({type:'line',name:n,xAxisIndex:0,yAxisIndex:0,z:1+i*.01,data:pair(voltsA,seriesA[i]),symbol:tempSymbols[i],symbolSize:14,itemStyle:style,lineStyle:{color:c,width:4},animation:false,silent:true});
 series.push({type:'line',name:n,xAxisIndex:2,yAxisIndex:2,z:5+i*.01,data:pair(voltsB,seriesB[i]),symbol:tempSymbols[i],symbolSize:10,itemStyle:style,lineStyle:{color:c,width:3.5},animation:false,silent:true});
});
const line=(name,xi,yi,data,z,o)=>Object.assign({type:'line',name,xAxisIndex:xi,yAxisIndex:yi,data,z,animation:false,silent:true},o);
const dot=(c)=>({type:[2.5,9],color:c,width:3});
const solid=(c,w)=>({color:c,width:w});
const whiteFill=(c)=>({color:'#fff',borderColor:c,borderWidth:1.2});
series.push(
 line('Undoped η',3,4,pair(tempsK,etaUndoped),5.1,{symbol:'rect',symbolSize:13,itemStyle:{color:'#000'},lineStyle:{color:'#000',width:6,type:[12,4]}}),
 line('etaUFit',3,4,pair(tempsK,etaUndopedFit),5.2,{symbol:'none',lineStyle:dot('#ffee00')}),
 line('Er doped η',3,4,pair(tempsK,etaDoped),5.3,{symbol:'circle',symbolSize:13,itemStyle:whiteFill('#000'),lineStyle:{color:'#000',width:6,type:[12,4]}}),
 line('etaDFit',3,4,pair(tempsK,etaDopedFit),5.4,{symbol:'none',lineStyle:dot('#ff00ff')}),
 line('Undoped Φ',3,6,pair(tempsK,phiUndoped),5.5,{symbol:'rect',symbolSize:13,itemStyle:{color:'#0000ff'},lineStyle:{color:'#0000ff',width:5.5,type:[14,5]}}),
 line('Er doped Φ',3,6,pair(tempsK,phiDoped),5.6,{symbol:'circle',symbolSize:14,itemStyle:whiteFill('#0000ff'),lineStyle:{color:'#0000ff',width:5.5,type:[14,5]}}),
 line('Undoped kT',6,8,pair(insetKT,insetUndoped),7.2,{symbol:'rect',symbolSize:7,itemStyle:{color:'#000'},lineStyle:solid('#000',2.5)}),
 line('Er doped kT',6,8,pair(insetKT,insetDoped),7.3,{symbol:'circle',symbolSize:7,itemStyle:{color:'#fff',borderColor:'#f00',borderWidth:1.5},lineStyle:solid('#f00',2.5)}),
 line('Linear fit doped 10 K to 30 K',6,8,insetFitDoped,7.4,{symbol:NONE,symbolSize:1,itemStyle:{color:'#0000e0'},lineStyle:solid('#0000e0',2.5)}),
 line('Linear fit undoped 10 K to 60 K',6,8,insetFitUndoped,7.5,{symbol:NONE,symbolSize:1,itemStyle:{color:'#00e000'},lineStyle:solid('#00e000',2.5)})
);
const sphere=(c)=>({type:'radial',x:.4,y:.3,r:.7,colorStops:[{offset:0,color:c==='#000'?'#aaa':'#ffaaaa'},{offset:.35,color:c},{offset:1,color:c==='#000'?'#111':'#e00000'}]});
const scat=(name,yi,data,z,sym,size,st)=>({type:'scatter',name,xAxisIndex:7,yAxisIndex:yi,data,z,symbol:sym,symbolSize:size,itemStyle:st,animation:false,silent:true});
series.push(
 line('fitEtaDS',7,10,fitEtaDopedSteep,5.05,{symbol:'none',lineStyle:dot('#8020ff')}),
 line('fitEtaD',7,10,fitEtaDoped,5.06,{symbol:'none',lineStyle:{type:[3,9.5],color:'#8020ff',width:3}}),
 scat('Undoped left',10,pair(invKT,cUndopedLeft),5.1,'rect',8,{color:'#fff',borderColor:'#000',borderWidth:1.5}),
 scat('Doped left',10,pair(cDopedX,cDopedLeft),5.2,'circle',11,{color:sphere('#000')}),
 scat('Undoped right',12,pair(invKT,cUndopedRight),5.3,'rect',8,{color:'#fff',borderColor:'#f00',borderWidth:1.5}),
 scat('Doped right',12,pair(invKT,cDopedRight),5.4,'circle',11,{color:sphere('#f00')}),
 line('fitBUS',7,12,fitBarrierUndopedSteep,5.5,{symbol:'none',lineStyle:{type:[4,5],color:'#008000',width:2}}),
 line('fitBDS',7,12,fitBarrierDopedSteep,5.55,{symbol:'none',lineStyle:{type:[6,5],color:'#0000ff',width:2}}),
 line('fitBD',7,12,fitBarrierDoped,5.6,{symbol:'none',lineStyle:{type:[8,9],color:'#0000ff',width:2.5}}),
 line('fitBU',7,12,fitBarrierUndoped,5.7,{symbol:'none',lineStyle:solid('#008000',2.5)}),
 line('fitEUS',7,10,fitEtaUndopedSteep,5.8,{symbol:'none',lineStyle:solid('#ff00ff',2)}),
 line('fitEU',7,10,fitEtaUndoped,5.9,{symbol:'none',lineStyle:solid('#ff00ff',2.5)})
);
const gt=(x,y,text,size,o={})=>({type:'text',x,y,rotation:o.rot||0,scaleY:o.sy||1,scaleX:o.sx||1,z:o.z||9,silent:true,
 style:{text,fontFamily:F,fontWeight:o.normal?'normal':'bold',fontSize:size,fill:o.color||'#000',align:o.align||'left',verticalAlign:'middle',rich:rich(size,o.color)}});
const hline=(x1,x2,y,c,w,dash)=>({type:'line',z:9,silent:true,shape:{x1,y1:y,x2,y2:y},style:{stroke:c,lineWidth:w,lineDash:dash||null}});
const graphics=[
 {type:'rect',z:2,silent:true,shape:{x:615,y:252,width:397,height:400},style:{fill:'#fff'}},
 {type:'rect',z:2,silent:true,shape:{x:592,y:263,width:24,height:389},style:{fill:'#fff'}},
 {type:'rect',z:2,silent:true,shape:{x:101,y:148,width:11,height:50},style:{fill:'#fff'}},
 {type:'rect',z:6.5,silent:true,shape:{x:602,y:295,width:11,height:105},style:{fill:'#fff'}},
 {type:'text',x:595,y:778,rotation:.765,z:3,silent:true,style:{text:'ACCEPTED MANUSCRIPT',fontFamily:F,fontSize:142,fill:'#e8e8e8',align:'center',verticalAlign:'middle'}},
 gt(140,55,'{t|Undoped }'+IO+'{t| ln I vs V curves in dark}',34.9),
 gt(140,109,'{t|condition at different temperatures}',34.9),
 gt(919,185,'(a)',50),
 gt(32,332,'ln I',46,{rot:Math.PI/2,align:'center'}),
 gt(565,736,'Voltage (V)',41,{align:'center'}),
 gt(623,275,'{t|Er doped }'+IO+'{t| ln I vs V curves in dark condition}',15.3),
 gt(623,305,'{t|at different temperatures}',15.3),
 gt(577,431,'ln I',22,{rot:Math.PI/2,align:'center'}),
 gt(819,656,'Voltage (V)',15.5,{align:'center'}),
 gt(22,1037,'Ideality factor (η)',24,{rot:Math.PI/2,align:'center',sx:1.16}),
 gt(332,1306,'Temperature (K)',23,{align:'center'}),
 gt(618,1031,'{t|Barrier Height, Φ}{s|B}{t| (eV)}',24,{rot:-Math.PI/2,align:'center',sx:1.16}),
 gt(500,1172,'(b)',31),
 gt(261,1101,'kT/q (meV)',11.5,{align:'center'}),
 gt(105,958,'ηkT/q (meV)',11,{rot:Math.PI/2,align:'center'}),
 gt(648,1050,'(1/η)-1',30,{rot:Math.PI/2,align:'center',sx:1.35}),
 gt(1192,1050,'{t|Barrier Height, Φ}{s|B}{t| (eV)}',20,{rot:-Math.PI/2,align:'center',sx:1.25}),
 gt(938,1310,'{b|(2kT)}{u|-1}{b| (eV)}{u|-1}',18,{align:'center'}),
 gt(724,845,'(c)',31),
 gt(741,875,'Undoped linear fit for barrier height (',12.7,{sy:1.2}),
 hline(945,966,875,'#008000',2.5), gt(966,875,')',12.7,{sy:1.2}),
 gt(741,896,'Doped linear fit for barrier height (',12.7,{sy:1.2}),
 hline(931,953,896,'#0000ff',2.5,[4,4]), gt(955,896,')',12.7,{sy:1.2}),
 gt(741,917,'Undoped linear fit for (1/η)-1 (',12.7,{sy:1.2}),
 hline(906,926,917,'#ff00ff',2.5), gt(927,917,')',12.7,{sy:1.2}),
 gt(741,938,'Doped linear fit for (1/η)-1 (',12.7,{sy:1.2}),
 hline(897,915,938,'#8020ff',2.5,[2.5,8]), gt(916,938,')',12.7,{sy:1.2}),
 {type:'ellipse',z:9,silent:true,shape:{cx:836,cy:1217,rx:7.5,ry:31},style:{fill:'none',stroke:'#000',lineWidth:1.5}},
 hline(712,836,1247,'#000',1.8),
 {type:'polygon',z:9,silent:true,shape:{points:[[706,1247],[715,1243],[715,1251]]},style:{fill:'#000'}},
 {type:'ellipse',z:9,silent:true,shape:{cx:1008,cy:1105,rx:5,ry:30},style:{fill:'none',stroke:'#f00',lineWidth:1.5}},
 hline(1008,1142,1077,'#f00',1.8),
 {type:'polygon',z:9,silent:true,shape:{points:[[1150,1077],[1140,1073],[1140,1081]]},style:{fill:'#f00'}}
];
const legends=[
 {data:tempNames,orient:'vertical',left:132,top:206,padding:0,itemWidth:35,itemHeight:15,itemGap:5.42,selectedMode:false,z:4,lineStyle:{width:3},textStyle:{fontFamily:F,fontWeight:'bold',fontSize:18,lineHeight:18,color:'#000'}},
 {data:tempNames,orient:'vertical',left:968,top:333,padding:0,itemWidth:15,itemHeight:10,itemGap:3.1,selectedMode:false,z:8,lineStyle:{width:2.5},textStyle:{fontFamily:F,fontWeight:'bold',fontSize:10.5,lineHeight:11,color:'#000'}},
 oneLegend('Undoped η',384,824,16.5,33,14), oneLegend('Er doped η',384,862,16.5,33,14), oneLegend('Undoped Φ',384,899,16.5,33,14), oneLegend('Er doped Φ',384,937,16.5,33,14),
 oneLegend('Undoped kT',205,928,11,19,8), oneLegend('Er doped kT',205,957,11,19,8), oneLegend('Linear fit doped 10 K to 30 K',205,981,10.5,19,8), oneLegend('Linear fit undoped 10 K to 60 K',205,1000,10.5,19,8),
 oneLegend('Undoped left',995,849,15.5,8,8), oneLegend('Doped left',994,884,15.5,10,10), oneLegend('Undoped right',995,917,15.5,8,8), oneLegend('Doped right',994,952,15.5,10,10)
];
const grid=(left,top,width,height)=>({left,top,width,height,show:false,containLabel:false});
const chart=echarts.init(document.getElementById('c'),null,{renderer:'canvas'});
chart.setOption({animation:false,backgroundColor:'#fff',
 grid:[grid(114,7,902,663),grid(615,252,396,370),grid(76,815,496,447),grid(128,817,249,258),grid(706,817,444,446)],
 xAxis:xAxes,yAxis:yAxes,legend:legends,series,graphic:{elements:graphics}});
</script></body></html>
